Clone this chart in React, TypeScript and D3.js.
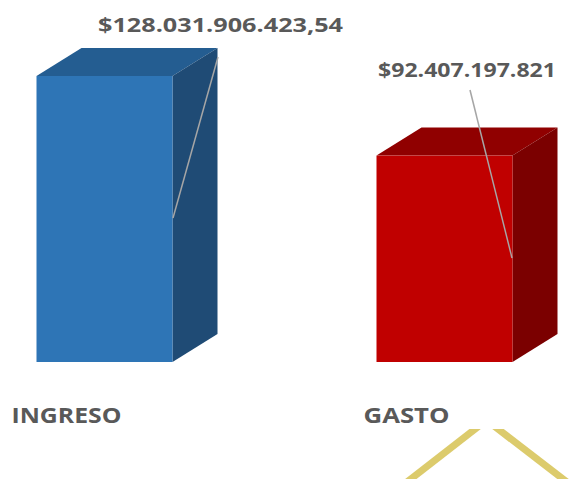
import React from "react";
import * as d3 from "d3";

const categories = ["INGRESO", "GASTO"];
const values = [128031906423.54, 92407197821];
const valueLabels = ["$128.031.906.423,54", "$92.407.197.821"];
const frontColors = ["#2e75b6", "#c00000"];
const topColors = ["#245d91", "#900000"];
const sideColors = ["#1f4b75", "#7b0000"];

const W = 569;
const H = 479;

export default function App() {
  const y = d3.scaleLinear().domain([0, d3.max(values) as number]).range([362, 76]);
  const x = d3.scalePoint<string>().domain(categories).range([104.5, 444.5]);
  const bw = 136;
  const dx = 45;
  const dy = -28;
  const labelPos = [
    { lx: 220.5, ly: 32, tl: 245, from: [218, 57], to: [173, 218] },
    { lx: 467, ly: 77, tl: 178, from: [470, 90], to: [512, 258] },
  ];
  return (
    <svg
      width={W}
      height={H}
      style={{ position: "absolute", left: 0, top: 0, background: "#fff" }}
      fontFamily="'Open Sans', sans-serif"
    >
      <defs>
        <clipPath id="roofclip">
          <rect x={0} y={429} width={W} height={60} />
        </clipPath>
      </defs>
      {categories.map((c, i) => {
        const cx = x(c) as number;
        const x0 = cx - bw / 2;
        const x1 = cx + bw / 2;
        const yt = y(values[i]);
        const yb = y(0);
        const top = `M${x0},${yt} L${x0 + dx},${yt + dy} L${x1 + dx},${yt + dy} L${x1},${yt} Z`;
        const side = `M${x1},${yt} L${x1 + dx},${yt + dy} L${x1 + dx},${yb + dy} L${x1},${yb} Z`;
        const lp = labelPos[i];
        return (
          <g key={c}>
            <path d={top} fill={topColors[i]} />
            <path d={side} fill={sideColors[i]} />
            <rect x={x0} y={yt} width={bw} height={yb - yt} fill={frontColors[i]} />
            <line
              x1={lp.from[0]}
              y1={lp.from[1]}
              x2={lp.to[0]}
              y2={lp.to[1]}
              stroke="#a6a6a6"
              strokeWidth={1.5}
            />
            <text
              x={lp.lx}
              y={lp.ly}
              textAnchor="middle"
              fontWeight={700}
              fontSize={20}
              fill="#595959"
              textLength={lp.tl}
              lengthAdjust="spacingAndGlyphs"
            >
              {valueLabels[i]}
            </text>
            <text
              x={cx - 38}
              y={423}
              textAnchor="middle"
              fontWeight={700}
              fontSize={21}
              fill="#595959"
              textLength={i === 0 ? 110 : 86}
              lengthAdjust="spacingAndGlyphs"
            >
              {c}
            </text>
          </g>
        );
      })}
      <g clipPath="url(#roofclip)">
        <line x1={488} y1={419} x2={398} y2={489} stroke="#dccb6c" strokeWidth={7} />
        <line x1={485} y1={419} x2={576} y2={489} stroke="#dccb6c" strokeWidth={7} />
      </g>
    </svg>
  );
}
